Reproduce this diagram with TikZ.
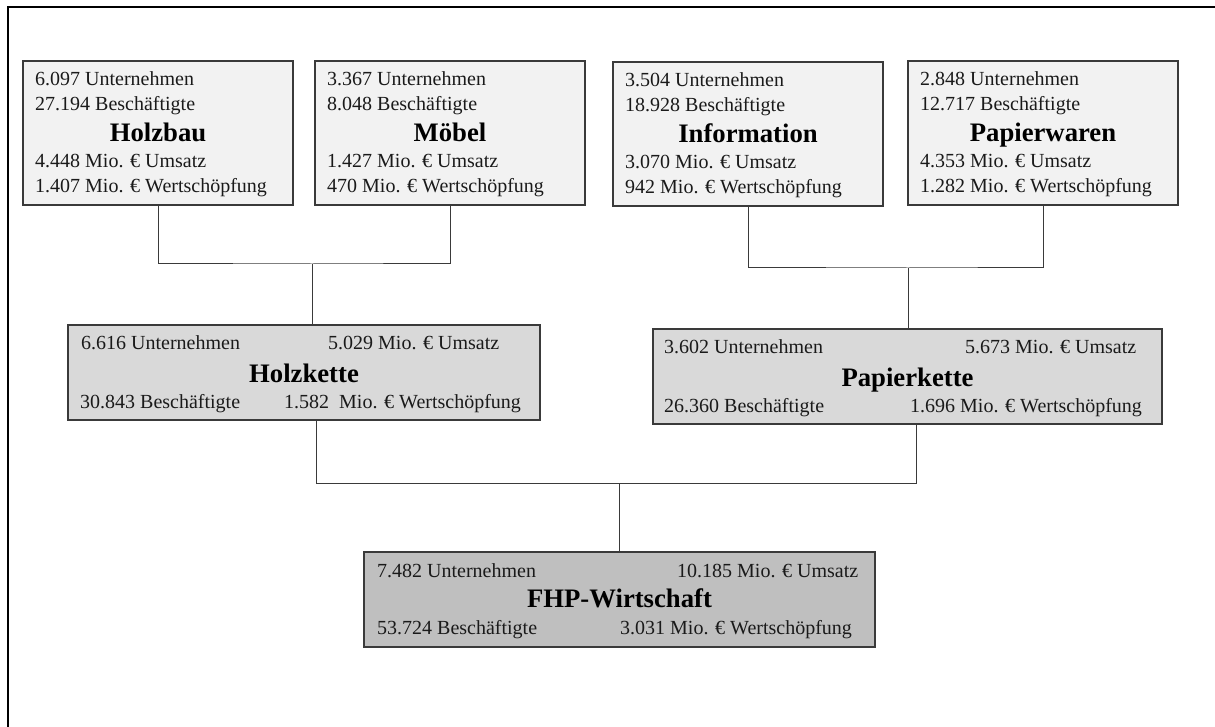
\documentclass[tikz,border=0pt]{standalone}
\usepackage{fontspec}
\setmainfont{Liberation Serif}
\definecolor{fillA}{HTML}{F2F2F2}
\definecolor{fillB}{HTML}{D9D9D9}
\definecolor{fillC}{HTML}{BFBFBF}
\definecolor{edge}{HTML}{3A3A3A}
\definecolor{ink}{HTML}{1A1A1A}
\tikzset{
  box/.style={draw=edge, line width=1.2pt, inner sep=0pt, outer sep=0pt, rectangle},
  smallbox/.style={box, fill=fillA, minimum width=270pt, minimum height=144pt},
  midbox/.style={box, fill=fillB, minimum height=95pt},
  bigbox/.style={box, fill=fillC, minimum height=95pt},
  txt/.style={inner sep=0pt, text=ink, font=\fontsize{20}{24}\selectfont},
  ttl/.style={inner sep=0pt, text=black, font=\fontsize{26.7}{30}\selectfont\bfseries},
  link/.style={draw=edge, line width=1pt},
  framelines/.style={draw=black, line width=2.5pt}
}
\newcommand\smallbx[8]{%
  \node[smallbox, anchor=north west] (#1) at (#2,#3) {};
  \node[txt, anchor=base west] (#1-u) at ([xshift=12pt,yshift=-25pt]#1.north west) {#4};
  \node[txt, anchor=base west] (#1-b) at ([xshift=12pt,yshift=-50pt]#1.north west) {#5};
  \node[ttl, anchor=base] (#1-t) at ([yshift=-81pt]#1.north) {#6};
  \node[txt, anchor=base west] (#1-s) at ([xshift=12pt,yshift=-107pt]#1.north west) {#7};
  \node[txt, anchor=base west] (#1-w) at ([xshift=12pt,yshift=-132pt]#1.north west) {#8};
}
\begin{document}
\begin{tikzpicture}[x=1pt,y=-1pt]
\useasboundingbox (0,0) rectangle (1215,727);
\draw[framelines] (8,740) -- (8,7) -- (1230,7);

% top row
\smallbx{hb}{23}{61}{6.097 Unternehmen}{27.194 Beschäftigte}{Holzbau}{4.448 Mio. € Umsatz}{1.407 Mio. € Wertschöpfung}
\smallbx{mb}{315}{61}{3.367 Unternehmen}{8.048 Beschäftigte}{Möbel}{1.427 Mio. € Umsatz}{470 Mio. € Wertschöpfung}
\smallbx{inf}{613}{62}{3.504 Unternehmen}{18.928 Beschäftigte}{Information}{3.070 Mio. € Umsatz}{942 Mio. € Wertschöpfung}
\smallbx{pw}{908}{61}{2.848 Unternehmen}{12.717 Beschäftigte}{Papierwaren}{4.353 Mio. € Umsatz}{1.282 Mio. € Wertschöpfung}

% Holzkette
\node[midbox, minimum width=472pt, anchor=north west] (hk) at (68,325) {};
\node[txt, anchor=base west] (hk-u) at ([xshift=13pt,yshift=-24pt]hk.north west) {6.616 Unternehmen};
\node[txt, anchor=base west] (hk-s) at ([xshift=260pt,yshift=-24pt]hk.north west) {5.029 Mio. € Umsatz};
\node[ttl, anchor=base] (hk-t) at ([yshift=-57pt]hk.north) {Holzkette};
\node[txt, anchor=base west] (hk-b) at ([xshift=12pt,yshift=-83pt]hk.north west) {30.843 Beschäftigte};
\node[txt, anchor=base west] (hk-w) at ([xshift=216pt,yshift=-83pt]hk.north west) {1.582\ \ Mio. € Wertschöpfung};

% Papierkette
\node[midbox, minimum width=509pt, anchor=north west] (pk) at (653,329) {};
\node[txt, anchor=base west] (pk-u) at ([xshift=11pt,yshift=-24pt]pk.north west) {3.602 Unternehmen};
\node[txt, anchor=base west] (pk-s) at ([xshift=312pt,yshift=-24pt]pk.north west) {5.673 Mio. € Umsatz};
\node[ttl, anchor=base] (pk-t) at ([yshift=-57pt]pk.north) {Papierkette};
\node[txt, anchor=base west] (pk-b) at ([xshift=11pt,yshift=-83pt]pk.north west) {26.360 Beschäftigte};
\node[txt, anchor=base west] (pk-w) at ([xshift=257pt,yshift=-83pt]pk.north west) {1.696 Mio. € Wertschöpfung};

% FHP
\node[bigbox, minimum width=511pt, anchor=north west] (fhp) at (364,552) {};
\node[txt, anchor=base west] (fhp-u) at ([xshift=13pt,yshift=-25pt]fhp.north west) {7.482 Unternehmen};
\node[txt, anchor=base west] (fhp-s) at ([xshift=313pt,yshift=-25pt]fhp.north west) {10.185 Mio. € Umsatz};
\node[ttl, anchor=base] (fhp-t) at ([yshift=-55pt]fhp.north) {FHP-Wirtschaft};
\node[txt, anchor=base west] (fhp-b) at ([xshift=13pt,yshift=-82pt]fhp.north west) {53.724 Beschäftigte};
\node[txt, anchor=base west] (fhp-w) at ([xshift=256pt,yshift=-82pt]fhp.north west) {3.031 Mio. € Wertschöpfung};

% connectors
\coordinate (j1) at (312,264);
\draw[link] (hb.south) |- (j1) -| (mb.south);
\draw[link] (j1) -- (j1 |- hk.north);
\coordinate (j2) at (908,268);
\draw[link] (inf.south) |- (j2) -| (pw.south);
\draw[link] (j2) -- (j2 |- pk.north);
\coordinate (b1) at (316,483);
\coordinate (b2) at (916,483);
\draw[link] (b1 |- hk.south) -- (b1) -- (b2) -- (b2 |- pk.south);
\draw[link] (fhp.north |- b1) -- (fhp.north);
\end{tikzpicture}
\end{document}
